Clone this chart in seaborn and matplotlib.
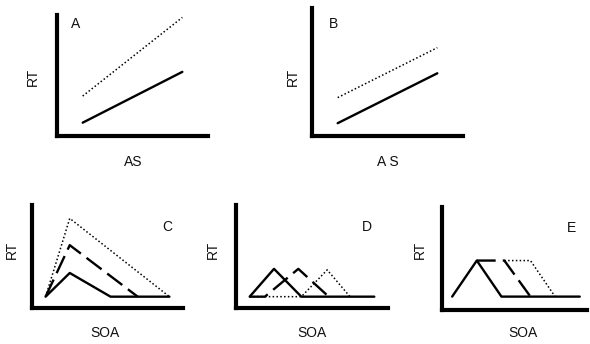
import matplotlib
matplotlib.use("Agg")
import matplotlib.pyplot as plt
import seaborn as sns

# Panel A: RT vs AS, two parallel-ish lines
a_x = [17, 83]
a_solid = [11, 53]
a_dotted = [33, 98]

# Panel B
b_x = [17, 83]
b_solid = [10, 49]
b_dotted = [30, 69]

# Panel C: RT vs SOA, peaks of different height
c_solid_x = [9, 25, 52, 91]
c_solid_y = [11, 34, 11, 11]
c_dashed_x = [9, 25, 70]
c_dashed_y = [11, 61, 11]
c_dotted_x = [9, 25, 91]
c_dotted_y = [11, 87, 11]

# Panel D: shifted triangles
d_solid_x = [9, 25, 43, 91]
d_solid_y = [11, 38, 11, 11]
d_dashed_x = [9, 19, 41, 61]
d_dashed_y = [11, 11, 38, 11]
d_dotted_x = [9, 43, 60, 75]
d_dotted_y = [11, 11, 37, 11]

# Panel E: plateaus of different length
e_solid_x = [7, 24, 41, 95]
e_solid_y = [13, 48, 13, 13]
e_dashed_x = [24, 43, 61]
e_dashed_y = [48, 48, 13]
e_dotted_x = [43, 61, 78]
e_dotted_y = [48, 48, 13]

sns.set_style("white")
plt.rcParams["font.family"] = ["Liberation Sans", "DejaVu Sans"]

W, H = 590, 344
fig = plt.figure(figsize=(W / 100, H / 100), dpi=100)


def make_ax(left, top, right, bottom):
    ax = fig.add_axes([left / W, 1 - bottom / H, (right - left) / W, (bottom - top) / H])
    ax.set_xlim(0, 100)
    ax.set_ylim(0, 100)
    ax.set_xticks([])
    ax.set_yticks([])
    sns.despine(ax=ax)
    for s in ["left", "bottom"]:
        ax.spines[s].set_linewidth(3.0)
        ax.spines[s].set_color("black")
    return ax


def txt(x, y, s, rot=0, size=10):
    fig.text(x / W, 1 - y / H, s, rotation=rot, fontsize=size,
             ha="center", va="center", color="#111111")


solid = dict(color="black", linewidth=1.7, sort=False)
dashed = dict(color="black", linewidth=1.7, sort=False, linestyle=(0, (8, 3)))
dotted = dict(color="black", linewidth=1.1, sort=False, linestyle=(0, (1, 1.5)))

# A
ax = make_ax(57, 15, 208, 136)
sns.lineplot(x=a_x, y=a_solid, ax=ax, **solid)
sns.lineplot(x=a_x, y=a_dotted, ax=ax, **dotted)
txt(76, 24, "A")
txt(33, 77, "RT", rot=90)
txt(133, 162, "AS")

# B
ax = make_ax(312, 8, 463, 136)
sns.lineplot(x=b_x, y=b_solid, ax=ax, **solid)
sns.lineplot(x=b_x, y=b_dotted, ax=ax, **dotted)
txt(333, 24, "B")
txt(293, 77, "RT", rot=90)
txt(388, 162, "A S")

# C
ax = make_ax(32, 205, 183, 308)
sns.lineplot(x=c_dotted_x, y=c_dotted_y, ax=ax, **dotted)
sns.lineplot(x=c_dashed_x, y=c_dashed_y, ax=ax, **dashed)
sns.lineplot(x=c_solid_x, y=c_solid_y, ax=ax, **solid)
txt(167, 227, "C")
txt(12, 250, "RT", rot=90)
txt(105, 333, "SOA")

# D
ax = make_ax(236, 205, 388, 308)
sns.lineplot(x=d_dotted_x, y=d_dotted_y, ax=ax, **dotted)
sns.lineplot(x=d_dashed_x, y=d_dashed_y, ax=ax, **dashed)
sns.lineplot(x=d_solid_x, y=d_solid_y, ax=ax, **solid)
txt(367, 227, "D")
txt(213, 250, "RT", rot=90)
txt(312, 333, "SOA")

# E
ax = make_ax(442, 207, 587, 310)
sns.lineplot(x=e_dotted_x, y=e_dotted_y, ax=ax, **dotted)
sns.lineplot(x=e_dashed_x, y=e_dashed_y, ax=ax, **dashed)
sns.lineplot(x=e_solid_x, y=e_solid_y, ax=ax, **solid)
txt(572, 228, "E")
txt(420, 250, "RT", rot=90)
txt(523, 333, "SOA")

fig.savefig("out.png", dpi=100)
